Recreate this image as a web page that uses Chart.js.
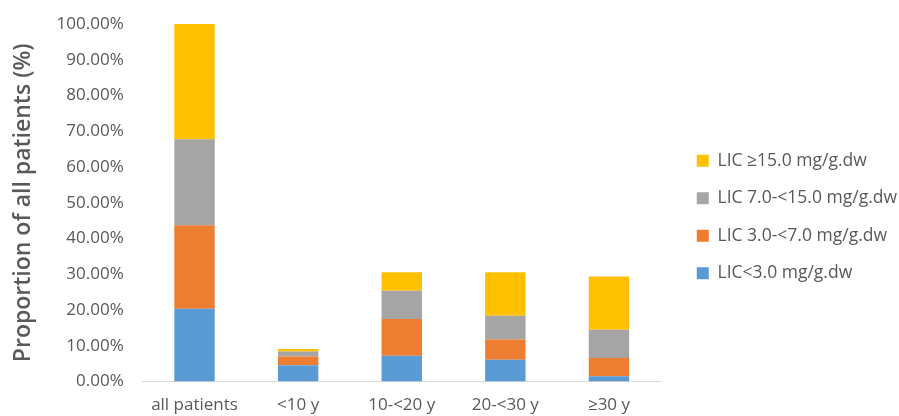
<!DOCTYPE html>
<html>
<head>
<meta charset="utf-8">
<script src="https://cdn.jsdelivr.net/npm/chart.js@4"></script>
<style>
  html, body { margin: 0; padding: 0; background: #fff; }
  #wrap { width: 899px; height: 416px; }
</style>
</head>
<body>
<div id="wrap"><canvas id="myChart"></canvas></div>
<script>
const categories = ["all patients", "<10 y", "10-<20 y", "20-<30 y", "\u226530 y"];

const licUnder3 = [20.4, 4.6, 7.2, 6.1, 1.5];
const lic3to7 = [23.3, 2.4, 10.3, 5.7, 5.1];
const lic7to15 = [24.1, 1.4, 7.9, 6.6, 7.9];
const lic15plus = [32.2, 0.7, 5.2, 12.2, 14.9];

const seriesNames = ["LIC<3.0 mg/g.dw", "LIC 3.0-<7.0 mg/g.dw", "LIC 7.0-<15.0 mg/g.dw", "LIC \u226515.0 mg/g.dw"];
const seriesColors = ["#5b9bd5", "#ed7d31", "#a5a5a5", "#ffc000"];

const textColor = "#595959";
const fontName = "'Open Sans', sans-serif";

// extra room between plot and legend, and a small lift of the legend
const legendGap = 16;
const legendLift = 5;
const legendGapPlugin = {
    id: "legendGap",
    beforeLayout(chart) {
        const lg = chart.legend;
        if (lg && !lg.gapPatched) {
            const fit = lg.fit;
            lg.fit = function () {
                fit.call(this);
                this.width += legendGap;
            };
            lg.gapPatched = true;
        }
    },
    afterLayout(chart) {
        const lg = chart.legend;
        if (!lg) return;
        lg.left += legendGap;
        lg.top -= legendLift;
        lg.bottom -= legendLift;
    }
};

const makeSet = (i, values) => ({
    label: seriesNames[i],
    data: values,
    backgroundColor: seriesColors[i],
    borderWidth: 0,
    categoryPercentage: 1,
    barPercentage: 0.39
});

const myChart = new Chart("myChart", {
    type: "bar",
    data: {
        labels: categories,
        datasets: [
            makeSet(0, licUnder3),
            makeSet(1, lic3to7),
            makeSet(2, lic7to15),
            makeSet(3, lic15plus)
        ]
    },
    plugins: [legendGapPlugin],
    options: {
        responsive: true,
        maintainAspectRatio: false,
        animation: false,
        layout: { padding: { top: 24, right: -8, left: 10, bottom: -4 } },
        scales: {
            x: {
                stacked: true,
                grid: { display: false },
                border: { color: "#d9d9d9", width: 1 },
                ticks: { color: textColor, font: { family: fontName, size: 17 }, padding: 5 }
            },
            y: {
                stacked: true,
                min: 0,
                max: 100,
                grid: { display: false },
                border: { display: false },
                ticks: {
                    stepSize: 10,
                    color: textColor,
                    font: { family: fontName, size: 17 },
                    padding: 11,
                    callback: (v) => v.toFixed(2) + "%"
                },
                title: {
                    display: true,
                    text: "Proportion of all patients (%)",
                    color: textColor,
                    font: { family: fontName, size: 23, weight: "600" },
                    padding: { top: 0, bottom: 8 }
                }
            }
        },
        plugins: {
            tooltip: { enabled: false },
            legend: {
                position: "right",
                reverse: true,
                maxWidth: 300,
                labels: {
                    color: textColor,
                    font: { family: fontName, size: 17.5 },
                    boxWidth: 12,
                    boxHeight: 12,
                    padding: 20
                }
            }
        }
    }
});
</script>
</body>
</html>
